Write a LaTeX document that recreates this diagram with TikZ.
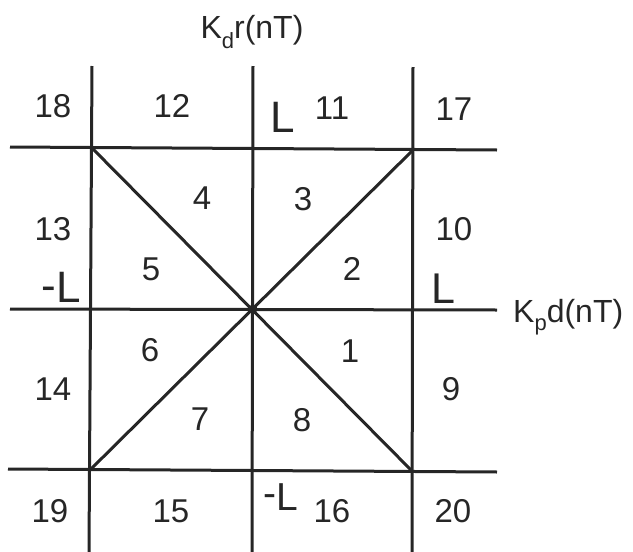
\documentclass[tikz,border=0pt]{standalone}
\usepackage{fontspec}
\setmainfont{Liberation Sans}
\newcommand{\lowsub}[2]{\raisebox{-#1}{\fontsize{22}{22}\selectfont #2}}
\begin{document}
\begin{tikzpicture}[x=1pt,y=-1pt,
  ln/.style={line width=3pt,black!85},
  lbl/.style={inner sep=0pt,anchor=base,font=\fontsize{33}{33}\selectfont,text=black!85},
  bigL/.style={inner sep=0pt,anchor=base,font=\fontsize{44}{44}\selectfont,text=black!85}]
\useasboundingbox (0,0) rectangle (633,552);
% grid coordinates
\coordinate (vlT) at (92,66);  \coordinate (vlB) at (89,552);
\coordinate (vcT) at (253,66); \coordinate (vcB) at (252,552);
\coordinate (vrT) at (413,67); \coordinate (vrB) at (412,552);
\coordinate (htL) at (10,147); \coordinate (htR) at (497,150);
\coordinate (hcL) at (10,309); \coordinate (hcR) at (497,310);
\coordinate (hbL) at (8,469);  \coordinate (hbR) at (497,472);
\coordinate (TL) at (92,148);  \coordinate (TR) at (413,150);
\coordinate (BL) at (90,470);  \coordinate (BR) at (412,471);
\coordinate (O) at (253,309);
% lines
\draw[ln] (vlT) -- (vlB);
\draw[ln] (vcT) -- (vcB);
\draw[ln] (vrT) -- (vrB);
\draw[ln] (htL) -- (htR);
\draw[ln] (hcL) -- (hcR);
\draw[ln] (hbL) -- (hbR);
\draw[ln] (TL) -- (BR);
\draw[ln] (TR) -- (BL);
\fill[black!85] (O) circle (4.5);
% axis labels
\node[lbl,font=\fontsize{32}{32}\selectfont] (ylab) at (252,38) {K\lowsub{10pt}{d}r(nT)};
\node[lbl,anchor=base west,font=\fontsize{32}{32}\selectfont] (xlab) at (513,322) {K\lowsub{8pt}{p}d(nT)};
% outer numbers
\node[lbl] (n18) at (53,117) {18};
\node[lbl] (n12) at (172,117) {12};
\node[bigL] (Ltop) at (283,132) {L};
\node[lbl] (n11) at (332,119) {11};
\node[lbl] (n17) at (454,120) {17};
\node[lbl] (n13) at (53,240) {13};
\node[lbl] (n10) at (454,240) {10};
\node[bigL] (Lleft) at (61,302) {\raisebox{2pt}{-}L};
\node[bigL,font=\fontsize{43}{43}\selectfont] (Lright) at (443,303) {L};
\node[lbl] (n14) at (53,400) {14};
\node[lbl] (n9) at (451,400) {9};
\node[lbl] (n19) at (50,522) {19};
\node[lbl] (n15) at (171,522) {15};
\node[bigL,font=\fontsize{39}{39}\selectfont] (Lbot) at (281,510) {\raisebox{4pt}{-}L};
\node[lbl] (n16) at (332,522) {16};
\node[lbl] (n20) at (453,522) {20};
% inner numbers
\node[lbl] (n4) at (202,209) {4};
\node[lbl] (n3) at (303,210) {3};
\node[lbl] (n5) at (151,280) {5};
\node[lbl] (n2) at (352,280) {2};
\node[lbl] (n6) at (150,361) {6};
\node[lbl] (n1) at (350,362) {1};
\node[lbl] (n7) at (200,430) {7};
\node[lbl] (n8) at (302,431) {8};
\end{tikzpicture}
\end{document}
